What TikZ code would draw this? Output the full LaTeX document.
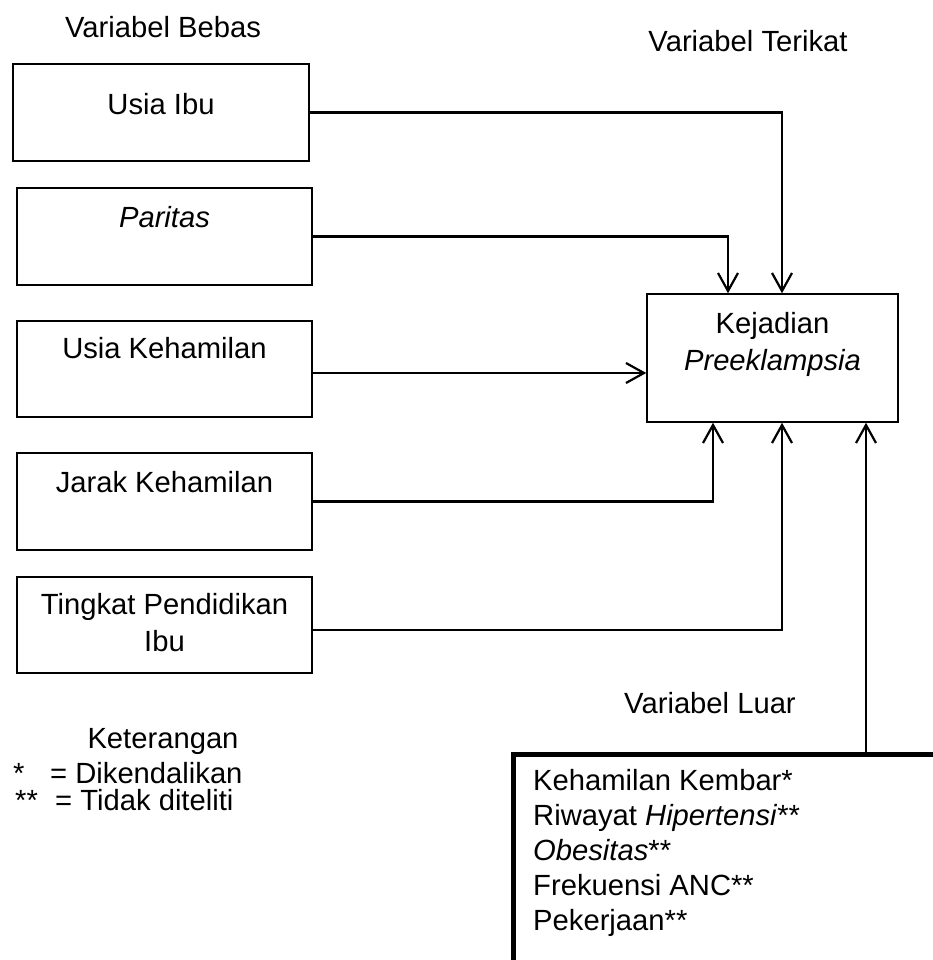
\documentclass[tikz,border=0pt]{standalone}
\usepackage{fontspec}
\setmainfont{Liberation Sans}
\usetikzlibrary{arrows.meta}
\begin{document}
\begin{tikzpicture}[x=1pt,y=-1pt,>={Straight Barb[length=18pt,width=20pt]},
    varbox/.style={draw,line width=1.5pt,minimum width=295pt,minimum height=97pt,inner sep=0pt},
    txt/.style={font=\fontsize{29.2}{37}\selectfont,inner sep=0pt},
    link/.style={line width=2.2pt}]
    \useasboundingbox (0,0) rectangle (933,960);
    \clip (0,0) rectangle (933,960);
    \node[txt,anchor=base] (bebas) at (163,38) {Variabel Bebas};
    \node[txt,anchor=base] (terikat) at (748,52) {Variabel Terikat};
    \node[varbox,minimum width=296pt] (usia) at (161,112.5) {};
    \node[varbox] (paritas) at (164.5,236.5) {};
    \node[varbox,minimum height=96pt] (hamil) at (164.5,369) {};
    \node[varbox] (jarak) at (164.5,501.5) {};
    \node[varbox,minimum height=96pt] (didik) at (164.5,625) {};
    \node[varbox,minimum width=251pt,minimum height=128pt] (kejadian) at (772.5,358) {};
    \node[txt,anchor=base] (usiatxt) at (161,115) {Usia Ibu};
    \node[txt,anchor=base] (paritastxt) at (164.5,227) {\textit{Paritas}};
    \node[txt,anchor=base] (hamiltxt) at (164.5,358) {Usia Kehamilan};
    \node[txt,anchor=base] (jaraktxt) at (164.5,492) {Jarak Kehamilan};
    \node[txt,align=center] (didiktxt) at (164.5,623) {Tingkat Pendidikan\\Ibu};
    \node[txt,align=center] (kejadiantxt) at (772.5,344) {Kejadian\\\textit{Preeklampsia}};
    \draw[link,->] (usia.east) -| ([xshift=9.5pt]kejadian.north);
    \draw[link,->] (paritas.east) -| ([xshift=-44.5pt]kejadian.north);
    \draw[link,->] ([yshift=-4pt]hamil.east) -- ([yshift=-4pt]hamil.east -| kejadian.west);
    \draw[link,->] (jarak.east) -| ([xshift=-59.5pt]kejadian.south);
    \draw[link,->] ([yshift=-5pt]didik.east) -| ([xshift=9.5pt]kejadian.south);
    \node[txt,anchor=base] (luarlbl) at (710,713) {Variabel Luar};
    \node[draw,line width=4.5pt,anchor=north west,minimum width=440pt,minimum height=230pt] (luar) at (511,752) {};
    \draw[link,->] ([xshift=93.5pt]kejadian.south |- luar.north) -- ([xshift=93.5pt]kejadian.south);
    \node[txt,anchor=north west,align=left,font=\fontsize{29.2}{35}\selectfont] (luartxt) at (533,769) {Kehamilan Kembar*\\Riwayat \textit{Hipertensi}**\\\textit{Obesitas}**\\Frekuensi ANC**\\Pekerjaan**};
    \node[txt,anchor=base] (ket) at (163,748) {Keterangan};
    \node[txt,anchor=base west] (ket1) at (13,783) {\makebox[37pt][l]{*}= Dikendalikan};
    \node[txt,anchor=base west] (ket2) at (15,810) {\makebox[40pt][l]{**}= Tidak diteliti};
\end{tikzpicture}
\end{document}
